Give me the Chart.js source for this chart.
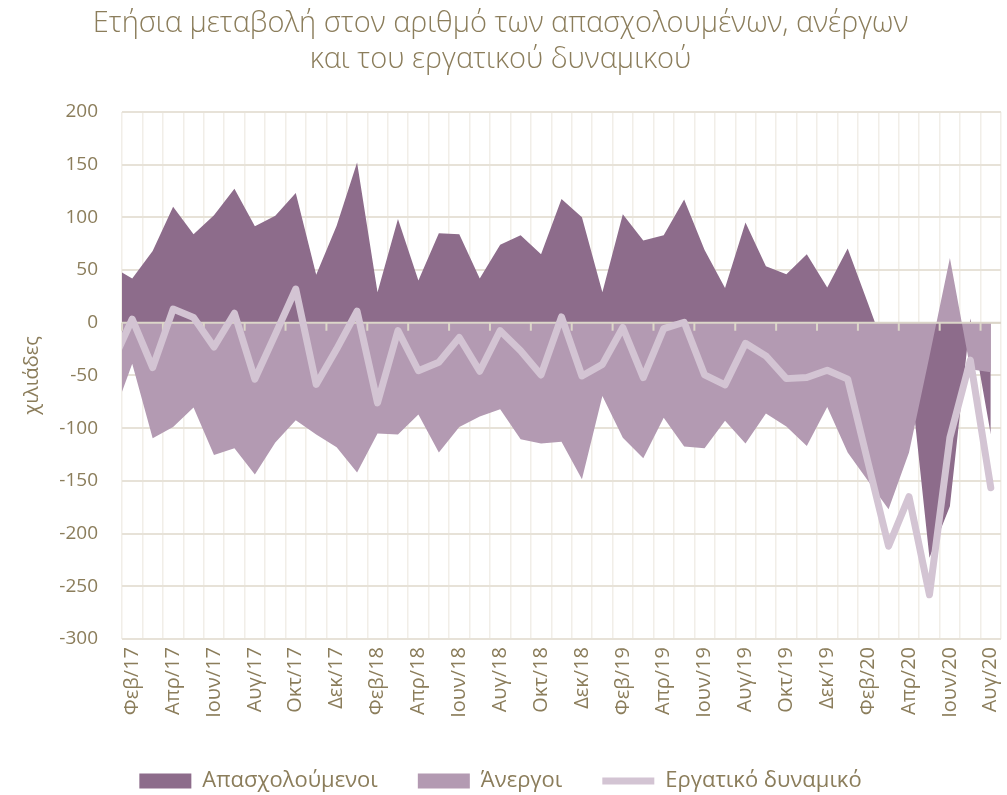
<!DOCTYPE html>
<html>
<head>
<meta charset="utf-8">
<script src="https://cdn.jsdelivr.net/npm/chart.js@4.4.1/dist/chart.umd.min.js"></script>
<style>
  html, body { margin: 0; padding: 0; background: #ffffff; }
</style>
</head>
<body>
<canvas id="chart" width="1007" height="795"></canvas>
<script>
// Months (index 0 = Ιαν/17 sits just outside the left edge of the plot)
const months = [
  'Ιαν/17', 'Φεβ/17', 'Μαρ/17', 'Απρ/17', 'Μαϊ/17', 'Ιουν/17', 'Ιουλ/17', 'Αυγ/17', 'Σεπ/17', 'Οκτ/17', 'Νοε/17', 'Δεκ/17',
  'Ιαν/18', 'Φεβ/18', 'Μαρ/18', 'Απρ/18', 'Μαϊ/18', 'Ιουν/18', 'Ιουλ/18', 'Αυγ/18', 'Σεπ/18', 'Οκτ/18', 'Νοε/18', 'Δεκ/18',
  'Ιαν/19', 'Φεβ/19', 'Μαρ/19', 'Απρ/19', 'Μαϊ/19', 'Ιουν/19', 'Ιουλ/19', 'Αυγ/19', 'Σεπ/19', 'Οκτ/19', 'Νοε/19', 'Δεκ/19',
  'Ιαν/20', 'Φεβ/20', 'Μαρ/20', 'Απρ/20', 'Μαϊ/20', 'Ιουν/20', 'Ιουλ/20', 'Αυγ/20'
];

// Annual change, thousands
const employed = [
  53.5, 42, 68, 110, 84, 102, 127, 91.5, 101.5, 123, 45.5, 92,
  152, 29, 98.5, 40, 85, 84, 42, 74, 83, 65, 117.5, 100,
  29, 103, 78, 83, 117, 69, 33, 95, 53.5, 46, 65, 33.5,
  70.5, 18, -35, -40, -223, -174, 4, -106
];
const unemployed = [
  -92, -39, -109.5, -99, -80.5, -125.5, -119, -144, -113.5, -92.5, -106, -118,
  -142, -105, -106, -87, -123, -99, -89, -82, -110.5, -114.5, -113, -148.5,
  -69.5, -109, -128.5, -90, -117.5, -119, -93, -114.5, -86, -98.5, -117, -80,
  -123, -150, -177, -123, -32, 61.5, -44, -47
];
const laborForce = [
  -39, 3.5, -42.5, 13, 5, -23, 9, -53.5, -11, 32, -58.5, -25,
  11, -76, -7.5, -45.5, -37.5, -14, -46, -7.5, -26.5, -49.5, 5.5, -50.5,
  -39.5, -4.5, -52, -5.5, 0.5, -49.5, -59, -19.5, -31.5, -53, -52, -45,
  -53.5, -133, -212, -165, -258, -109, -35.5, -156.5
];

const yTicks = [-300, -250, -200, -150, -100, -50, 0, 50, 100, 150, 200];

const textColor = '#8b7d5b';
const FONT = "'Open Sans', sans-serif";

function points(values) {
  return values.map((v, i) => ({ x: i, y: v }));
}

// zero axis line with small tick marks every two months, drawn over the areas
const zeroAxis = {
  id: 'zeroAxis',
  afterDatasetDraw(chart, args) {
    if (args.index !== 1) return;
    const { ctx, chartArea, scales } = chart;
    const y0 = scales.y.getPixelForValue(0);
    ctx.save();
    ctx.strokeStyle = '#dcd6c9';
    ctx.lineWidth = 2;
    ctx.beginPath();
    ctx.moveTo(chartArea.left, y0);
    ctx.lineTo(chartArea.right, y0);
    for (let v = 0.5; v <= months.length - 0.5; v += 2) {
      const x = scales.x.getPixelForValue(v);
      ctx.moveTo(x, y0);
      ctx.lineTo(x, y0 + 8);
    }
    ctx.stroke();
    ctx.restore();
  }
};

new Chart(document.getElementById('chart'), {
  type: 'line',
  data: {
    datasets: [
      {
        label: 'Απασχολούμενοι',
        data: points(employed),
        backgroundColor: '#8d6c8b',
        borderColor: '#8d6c8b',
        borderWidth: 0,
        fill: 'origin',
        pointRadius: 0,
        clip: 0,
        order: 3,
        pointStyle: 'rect'
      },
      {
        label: 'Άνεργοι',
        data: points(unemployed),
        backgroundColor: '#b39ab2',
        borderColor: '#b39ab2',
        borderWidth: 0,
        fill: 'origin',
        pointRadius: 0,
        clip: 0,
        order: 2,
        pointStyle: 'rect'
      },
      {
        label: 'Εργατικό δυναμικό',
        data: points(laborForce),
        borderColor: '#d3c4d3',
        backgroundColor: '#d3c4d3',
        borderWidth: 7,
        borderJoinStyle: 'round',
        borderCapStyle: 'round',
        fill: false,
        pointRadius: 0,
        clip: 0,
        order: 1,
        pointStyle: 'line'
      }
    ]
  },
  options: {
    responsive: false,
    animation: false,
    layout: { padding: { left: 0, right: 6, top: 6, bottom: -7 } },
    plugins: {
      title: {
        display: true,
        text: ['Ετήσια μεταβολή στον αριθμό των απασχολουμένων, ανέργων', 'και του εργατικού δυναμικού'],
        color: textColor,
        font: { family: FONT, size: 29, weight: '300', lineHeight: 1.24 },
        padding: { top: 0, bottom: 34 }
      },
      legend: {
        position: 'bottom',
        labels: {
          sort: (a, b) => a.datasetIndex - b.datasetIndex,
          usePointStyle: true,
          pointStyleWidth: 52,
          boxHeight: 15,
          padding: 40,
          color: textColor,
          font: { family: FONT, size: 22 }
        }
      },
      tooltip: { enabled: false }
    },
    scales: {
      x: {
        type: 'linear',
        min: 0.5,
        max: months.length - 0.5,
        afterBuildTicks: axis => {
          const ticks = [];
          for (let i = 0; i < months.length; i++) {
            ticks.push({ value: i - 0.5 });
            ticks.push({ value: i });
          }
          ticks.push({ value: months.length - 0.5 });
          axis.ticks = ticks.filter(t => t.value >= 0.5);
        },
        afterFit: axis => {
          axis.height = 91;
          axis.paddingLeft = 0;
          axis.paddingRight = 0;
        },
        grid: {
          color: c => Number.isInteger(c.tick.value) ? 'rgba(0,0,0,0)' : '#f1eee8',
          lineWidth: 1.5,
          drawTicks: false
        },
        border: { display: false },
        ticks: {
          autoSkip: false,
          minRotation: 90,
          maxRotation: 90,
          padding: 8,
          color: textColor,
          font: { family: FONT, size: 20 },
          callback: v => (Number.isInteger(v) && v % 2 === 1) ? months[v] : ''
        }
      },
      y: {
        min: -300,
        max: 200,
        afterBuildTicks: axis => { axis.ticks = yTicks.map(v => ({ value: v })); },
        afterFit: axis => { axis.width = 122; },
        grid: { color: '#e7e2d8', lineWidth: 2, drawTicks: false },
        border: { display: false },
        ticks: {
          padding: 24,
          color: textColor,
          font: { family: FONT, size: 19 }
        },
        title: {
          display: true,
          text: 'χιλιάδες',
          color: textColor,
          font: { family: FONT, size: 20 },
          padding: { top: 20, bottom: 0 }
        }
      }
    }
  },
  plugins: [zeroAxis]
});
</script>
</body>
</html>
